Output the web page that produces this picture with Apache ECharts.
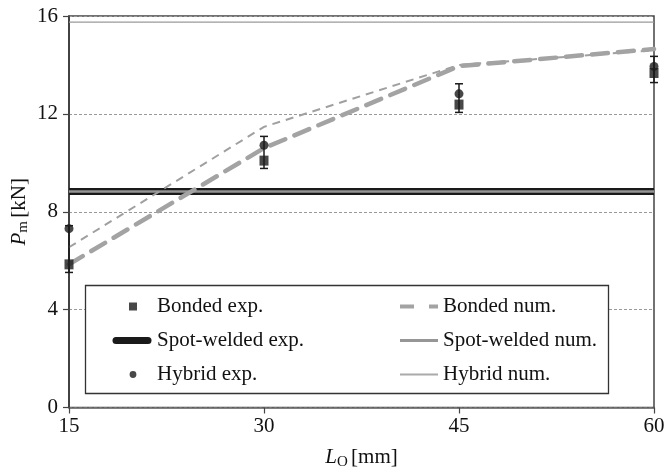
<!DOCTYPE html>
<html>
<head>
<meta charset="utf-8">
<script src="https://cdn.jsdelivr.net/npm/echarts@6/dist/echarts.min.js"></script>
<style>
  html, body { margin: 0; padding: 0; background: #fff; }
  #chart { width: 664px; height: 472px; }
</style>
</head>
<body>
<div id="chart"></div>
<script>
// Overlap length L_O [mm]
const overlapLengths = [15, 30, 45, 60];

// Experimental peak loads P_m [kN]
const bondedExp = [5.85, 10.09, 12.38, 13.67];
const bondedExpErr = [0.33, 0.32, 0.32, 0.39];
const hybridExp = [7.31, 10.72, 12.82, 13.94];
const hybridExpErr = [0.12, 0.36, 0.41, 0.41];
const spotWeldedExp = [8.83, 8.83];

// Numerical peak loads P_m [kN]
const bondedNum = [5.85, 10.6, 13.95, 14.65];
const hybridNum = [6.55, 11.47, 14.0, 14.6];
const spotWeldedNum = [8.83, 8.83];
const upperRefLine = [15.75, 15.75];
const spanEnds = [15, 60];

const yTicks = { min: 0, max: 16, interval: 4 };
const xTicks = { min: 15, max: 60, interval: 15 };

const SERIF = '"Liberation Serif", "DejaVu Serif", serif';
const FS = 21;

const pairs = (xs, ys) => xs.map((x, i) => [x, ys[i]]);

// Vertical error bars spanning bonded (lower) to hybrid (upper) scatter
const errData = overlapLengths.map((x, i) => [
  x,
  Math.min(bondedExp[i] - bondedExpErr[i], hybridExp[i] - hybridExpErr[i]),
  Math.max(bondedExp[i] + bondedExpErr[i], hybridExp[i] + hybridExpErr[i])
]);

// Legend icons drawn in a 40x14 box (extra moveTo points fix the bounds)
const BOX = 'M0,0 M40,14 ';
const icons = {
  square: 'path://' + BOX + 'M17,3 h8 v8 h-8 Z',
  capsule: 'path://' + BOX + 'M4,3.5 h32 a3.5,3.5 0 0 1 0,7 h-32 a3.5,3.5 0 0 1 0,-7 Z',
  dot: 'path://' + BOX + 'M21,3.6 a3.4,3.4 0 1 1 0,6.8 a3.4,3.4 0 1 1 0,-6.8 Z',
  dashed: 'path://' + BOX + 'M2,5 h14 v4 h-14 Z M31,5 h9 v4 h-9 Z',
  solidMid: 'path://' + BOX + 'M2,5.6 h38 v2.8 h-38 Z',
  solidThin: 'path://' + BOX + 'M2,6 h38 v2 h-38 Z'
};

const legendText = { fontFamily: SERIF, fontSize: FS, color: '#111' };

const nameRich = {
  i: { fontFamily: SERIF, fontSize: FS, fontStyle: 'italic', color: '#111' },
  s: { fontFamily: SERIF, fontSize: 15, color: '#111', padding: [9, 0, 0, 0] },
  n: { fontFamily: SERIF, fontSize: FS, color: '#111' }
};

const chart = echarts.init(document.getElementById('chart'), null, { renderer: 'canvas' });

chart.setOption({
  animation: false,
  backgroundColor: '#fff',
  grid: {
    left: 69, right: 10, top: 16, bottom: 64.5,
    outerBoundsMode: 'none', containLabel: false,
    show: true, borderColor: '#444', borderWidth: 1.5, backgroundColor: 'transparent'
  },
  xAxis: {
    type: 'value',
    min: xTicks.min, max: xTicks.max, interval: xTicks.interval,
    name: '{i|L}{s|O} {n|[mm]}',
    nameLocation: 'middle',
    nameGap: 38,
    nameTextStyle: { rich: nameRich },
    axisLine: { show: true, lineStyle: { color: '#666', width: 1.5 } },
    axisTick: { show: true, inside: false, length: 6, lineStyle: { color: '#444', width: 1.2 } },
    axisLabel: { fontFamily: SERIF, fontSize: FS, color: '#111', margin: 8 },
    splitLine: { show: false }
  },
  yAxis: {
    type: 'value',
    min: yTicks.min, max: yTicks.max, interval: yTicks.interval,
    name: '{i|P}{s|m} {n|[kN]}',
    nameLocation: 'middle',
    nameGap: 38,
    nameMoveOverlap: false,
    nameTextStyle: { rich: nameRich },
    axisLine: { show: true, lineStyle: { color: '#333', width: 1.5 } },
    axisTick: { show: true, inside: false, length: 6, lineStyle: { color: '#444', width: 1.2 } },
    axisLabel: { fontFamily: SERIF, fontSize: FS, color: '#111', margin: 11 },
    splitLine: { show: true, lineStyle: { color: '#999', width: 1, type: [3, 2] } }
  },
  legend: [
    {
      left: 107, top: 291, orient: 'vertical', z: 20,
      itemWidth: 40, itemHeight: 14, itemGap: 13,
      selectedMode: false,
      textStyle: legendText,
      data: [
        { name: 'Bonded exp.', icon: icons.square, itemStyle: { color: '#1a1a1a', borderWidth: 0 } },
        { name: 'Spot-welded exp.', icon: icons.capsule, itemStyle: { color: '#1a1a1a', borderWidth: 0 } },
        { name: 'Hybrid exp.', icon: icons.dot, itemStyle: { color: '#1a1a1a', borderWidth: 0 } }
      ]
    },
    {
      left: 393, top: 291, orient: 'vertical', z: 20,
      itemWidth: 40, itemHeight: 14, itemGap: 13,
      selectedMode: false,
      textStyle: legendText,
      data: [
        { name: 'Bonded num.', icon: icons.dashed, itemStyle: { color: '#a3a3a3', borderWidth: 0 } },
        { name: 'Spot-welded num.', icon: icons.solidMid, itemStyle: { color: '#969696', borderWidth: 0 } },
        { name: 'Hybrid num.', icon: icons.solidThin, itemStyle: { color: '#aaaaaa', borderWidth: 0 } }
      ]
    }
  ],
  graphic: [
    {
      type: 'rect', z: 5, silent: true,
      shape: { x: 85.5, y: 285.5, width: 523, height: 108 },
      style: { fill: '#fff', stroke: '#333', lineWidth: 1.3 }
    }
  ],
  series: [
    {
      name: 'upper reference', type: 'line', z: 2,
      data: pairs(spanEnds, upperRefLine),
      showSymbol: false, silent: true,
      lineStyle: { color: '#9a9a9a', width: 1.3 }
    },
    {
      name: 'Spot-welded exp.', type: 'line', z: 2,
      data: pairs(spanEnds, spotWeldedExp),
      showSymbol: false, silent: true,
      lineStyle: { color: '#1a1a1a', width: 7 }
    },
    {
      name: 'Spot-welded num.', type: 'line', z: 3,
      data: pairs(spanEnds, spotWeldedNum),
      showSymbol: false, silent: true,
      lineStyle: { color: '#969696', width: 2.5 }
    },
    {
      name: 'Hybrid num.', type: 'line', z: 3,
      data: pairs(overlapLengths, hybridNum),
      showSymbol: false, silent: true,
      lineStyle: { color: '#a0a0a0', width: 2, type: [8, 6] }
    },
    {
      name: 'Bonded num.', type: 'line', z: 4,
      data: pairs(overlapLengths, bondedNum),
      showSymbol: false, silent: true,
      lineStyle: { color: '#a3a3a3', width: 4.5, type: [16, 10], cap: 'round' }
    },
    {
      name: 'error bars', type: 'custom', z: 6, silent: true,
      data: errData,
      renderItem: function (params, api) {
        const x = api.value(0);
        const lo = api.coord([x, api.value(1)]);
        const hi = api.coord([x, api.value(2)]);
        const cap = 4;
        const st = { stroke: '#1a1a1a', lineWidth: 1.5 };
        return {
          type: 'group',
          children: [
            { type: 'line', shape: { x1: lo[0], y1: lo[1], x2: hi[0], y2: hi[1] }, style: st },
            { type: 'line', shape: { x1: lo[0] - cap, y1: lo[1], x2: lo[0] + cap, y2: lo[1] }, style: st },
            { type: 'line', shape: { x1: hi[0] - cap, y1: hi[1], x2: hi[0] + cap, y2: hi[1] }, style: st }
          ]
        };
      }
    },
    {
      name: 'Bonded exp.', type: 'scatter', z: 7, silent: true,
      data: pairs(overlapLengths, bondedExp),
      symbol: 'rect', symbolSize: [9, 10],
      itemStyle: { color: '#1a1a1a' }
    },
    {
      name: 'Hybrid exp.', type: 'scatter', z: 7, silent: true,
      data: pairs(overlapLengths, hybridExp),
      symbol: 'circle', symbolSize: 9,
      itemStyle: { color: '#1a1a1a' }
    }
  ]
});
</script>
</body>
</html>
